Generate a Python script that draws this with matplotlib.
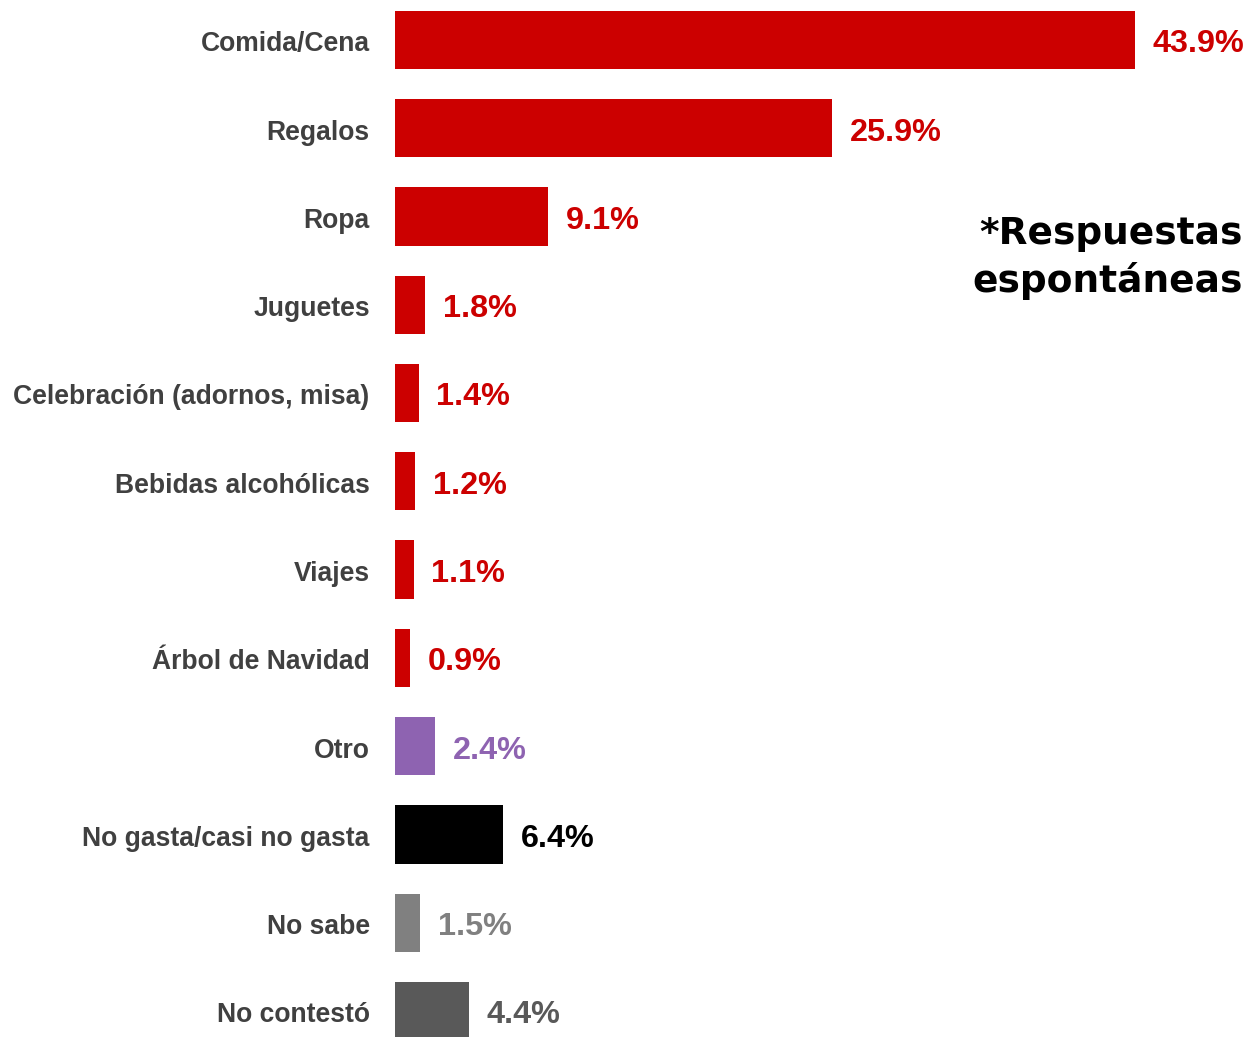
import matplotlib
matplotlib.use('Agg')
import matplotlib.pyplot as plt
import numpy as np

categories = ['Comida/Cena', 'Regalos', 'Ropa', 'Juguetes', 'Celebración (adornos, misa)',
              'Bebidas alcohólicas', 'Viajes', 'Árbol de Navidad', 'Otro',
              'No gasta/casi no gasta', 'No sabe', 'No contestó']
values = [43.9, 25.9, 9.1, 1.8, 1.4, 1.2, 1.1, 0.9, 2.4, 6.4, 1.5, 4.4]
bar_colors = ['#cc0000'] * 8 + ['#8e63b1', '#000000', '#808080', '#595959']
text_colors = ['#cc0000'] * 8 + ['#8e63b1', '#000000', '#808080', '#595959']

fig = plt.figure(figsize=(12.48, 10.37), dpi=100)
ax = fig.add_axes([395 / 1248, 0, 1 - 395 / 1248, 1])

y = np.arange(len(categories))
ax.barh(y, values, height=0.66, color=bar_colors)
ax.set_xlim(0, (1248 - 395) / 16.86)
ax.set_ylim(11.295, -0.453)

for i, (v, c) in enumerate(zip(values, text_colors)):
    ax.text(v + 1.05, i + 0.05, f'{v:.1f}%', color=c, fontsize=23.3, fontweight='bold',
            family='Liberation Sans', va='center', ha='left')
    ax.text(-1.5, i + 0.05, categories[i], color='#404040', fontsize=19.1, fontweight='bold',
            family='Liberation Sans', va='center', ha='right')

for s in ax.spines.values():
    s.set_visible(False)
ax.set_xticks([])
ax.set_yticks([])

fig.text(1243 / 1248, 1 - 258 / 1037, '*Respuestas\nespontáneas', ha='right', va='center',
         fontsize=27, fontweight='bold', family='DejaVu Sans', color='#000000', linespacing=1.32)

fig.savefig('out.png', dpi=100)
